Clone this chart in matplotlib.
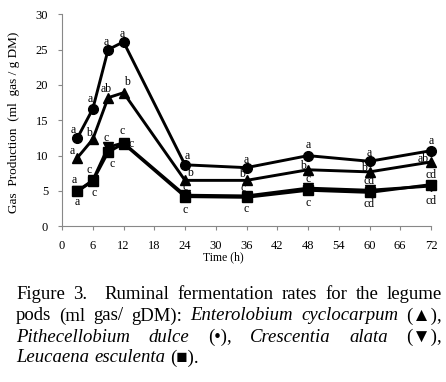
import matplotlib
matplotlib.use('Agg')
import matplotlib.pyplot as plt

# data
time_h = [3, 6, 9, 12, 24, 36, 48, 60, 72]
pithecellobium = [12.5, 16.6, 25.0, 26.1, 8.7, 8.3, 10.0, 9.2, 10.7]
enterolobium = [9.7, 12.3, 18.2, 18.9, 6.5, 6.5, 8.0, 7.7, 9.1]
crescentia = [5.0, 6.5, 11.2, 11.8, 4.4, 4.3, 5.4, 5.1, 5.7]
leucaena = [4.95, 6.4, 10.5, 11.7, 4.2, 4.1, 5.1, 4.8, 5.9]

letters_pith = ['a'] * 9
letters_ent = ['a', 'b', 'ab', 'b', 'b', 'b', 'b', 'b', 'ab']
letters_cres = ['a', 'c', 'c', 'c', 'c', 'c', 'c', 'cd', 'cd']
letters_leuc = ['a', 'c', 'c', 'c', 'c', 'c', 'c', 'cd', 'cd']

xticks = list(range(0, 73, 6))
yticks = [0, 5, 10, 15, 20, 25, 30]

W, H = 446, 382
serif = ['Liberation Serif', 'DejaVu Serif']
plt.rcParams['font.family'] = serif

fig = plt.figure(figsize=(W / 100, H / 100), dpi=100)
ax = fig.add_axes([62 / W, 1 - 226.3 / H, (431 - 62) / W, (226.3 - 14.3) / H])

series = [
    (pithecellobium, 'o', 7.0),
    (enterolobium, '^', 7.5),
    (crescentia, 'v', 7.5),
    (leucaena, 's', 7.0),
]
for vals, mk, ms in series:
    ax.plot(time_h, vals, color='black', lw=2.1, marker=mk, ms=ms, clip_on=False)

# letter offsets in pixels (dx, dy) from each point
off_pith = [(-4, 8), (-3, 10), (-2, 8), (-1, 8), (2, 9), (0, 8), (0, 11), (0, 8), (0, 10)]
off_ent = [(-5, 7), (-4, 6), (-2, 9), (3, 11), (5, 7), (-5, 6), (-5, 4), (-6, 4), (-8, 3)]
off_cres = [(-3, 11), (-4, 10), (-2, 9), (-1, 12), (0, 8), (-3, 8), (0, 9), (-1, 9), (0, 11)]
off_leuc = [(0, -11), (1, -12), (4, -12), (8, 0), (0, -13), (0, -12), (0, -13), (-1, -12), (0, -16)]

for vals, labs, offs in [(pithecellobium, letters_pith, off_pith),
                         (enterolobium, letters_ent, off_ent),
                         (crescentia, letters_cres, off_cres),
                         (leucaena, letters_leuc, off_leuc)]:
    for t, v, lab, (dx, dy) in zip(time_h, vals, labs, offs):
        ax.annotate(lab, (t, v), xytext=(dx, dy), textcoords='offset pixels',
                    ha='center', va='center', fontsize=8.5)

ax.set_xlim(0, 72)
ax.set_ylim(0, 30)
ax.set_xticks(xticks)
ax.set_yticks(yticks)
for s in ['top', 'right']:
    ax.spines[s].set_visible(False)
for s in ['left', 'bottom']:
    ax.spines[s].set_color('#888888')
    ax.spines[s].set_linewidth(0.8)
ax.tick_params(colors='#888888', labelcolor='black', labelsize=9, length=3, width=0.8, pad=7)

fig.text(14 / W, 1 - 122 / H, 'Gas  Production  (ml  gas / g DM)', rotation=90,
         ha='center', va='center', fontsize=9.5)
fig.text(223 / W, 1 - 257 / H, 'Time (h)', ha='center', va='center', fontsize=8.5)

# justified caption
cap_left, cap_right = 16, 442
cap_size = 13.5
caption = [
    (299, [('Figure', 'normal'), ('3.', 'normal'), ('Ruminal', 'normal'), ('fermentation', 'normal'),
           ('rates', 'normal'), ('for', 'normal'), ('the', 'normal'), ('legume', 'normal')], True),
    (320.5, [('pods', 'normal'), ('(ml', 'normal'), ('gas/', 'normal'), ('gDM):', 'normal'),
             ('Enterolobium', 'italic'), ('cyclocarpum', 'italic'), ('(\u25B2),', 'normal')], True),
    (341.8, [('Pithecellobium', 'italic'), ('dulce', 'italic'), ('(\u2022),', 'normal'),
             ('Crescentia', 'italic'), ('alata', 'italic'), ('(\u25BC),', 'normal')], True),
    (362.5, [('Leucaena', 'italic'), ('esculenta', 'italic'), ('(\u25A0).', 'normal')], False),
]
renderer = fig.canvas.get_renderer()
for yb, words, justify in caption:
    objs = []
    for w, st in words:
        t = fig.text(0, 1 - yb / H, w, fontsize=cap_size, style=st, ha='left', va='baseline',
                     family=serif)
        objs.append(t)
    widths = [o.get_window_extent(renderer).width for o in objs]
    gaps = [2 if (justify and i == 1 and words[1][0] == '3.') else 1 for i in range(len(objs) - 1)]
    if justify:
        unit = (cap_right - cap_left - sum(widths)) / sum(gaps)
    else:
        unit = 5
    x = cap_left
    for i, o in enumerate(objs):
        o.set_x(x / W)
        x += widths[i]
        if i < len(gaps):
            x += unit * gaps[i]

fig.savefig('out.png', dpi=100)
